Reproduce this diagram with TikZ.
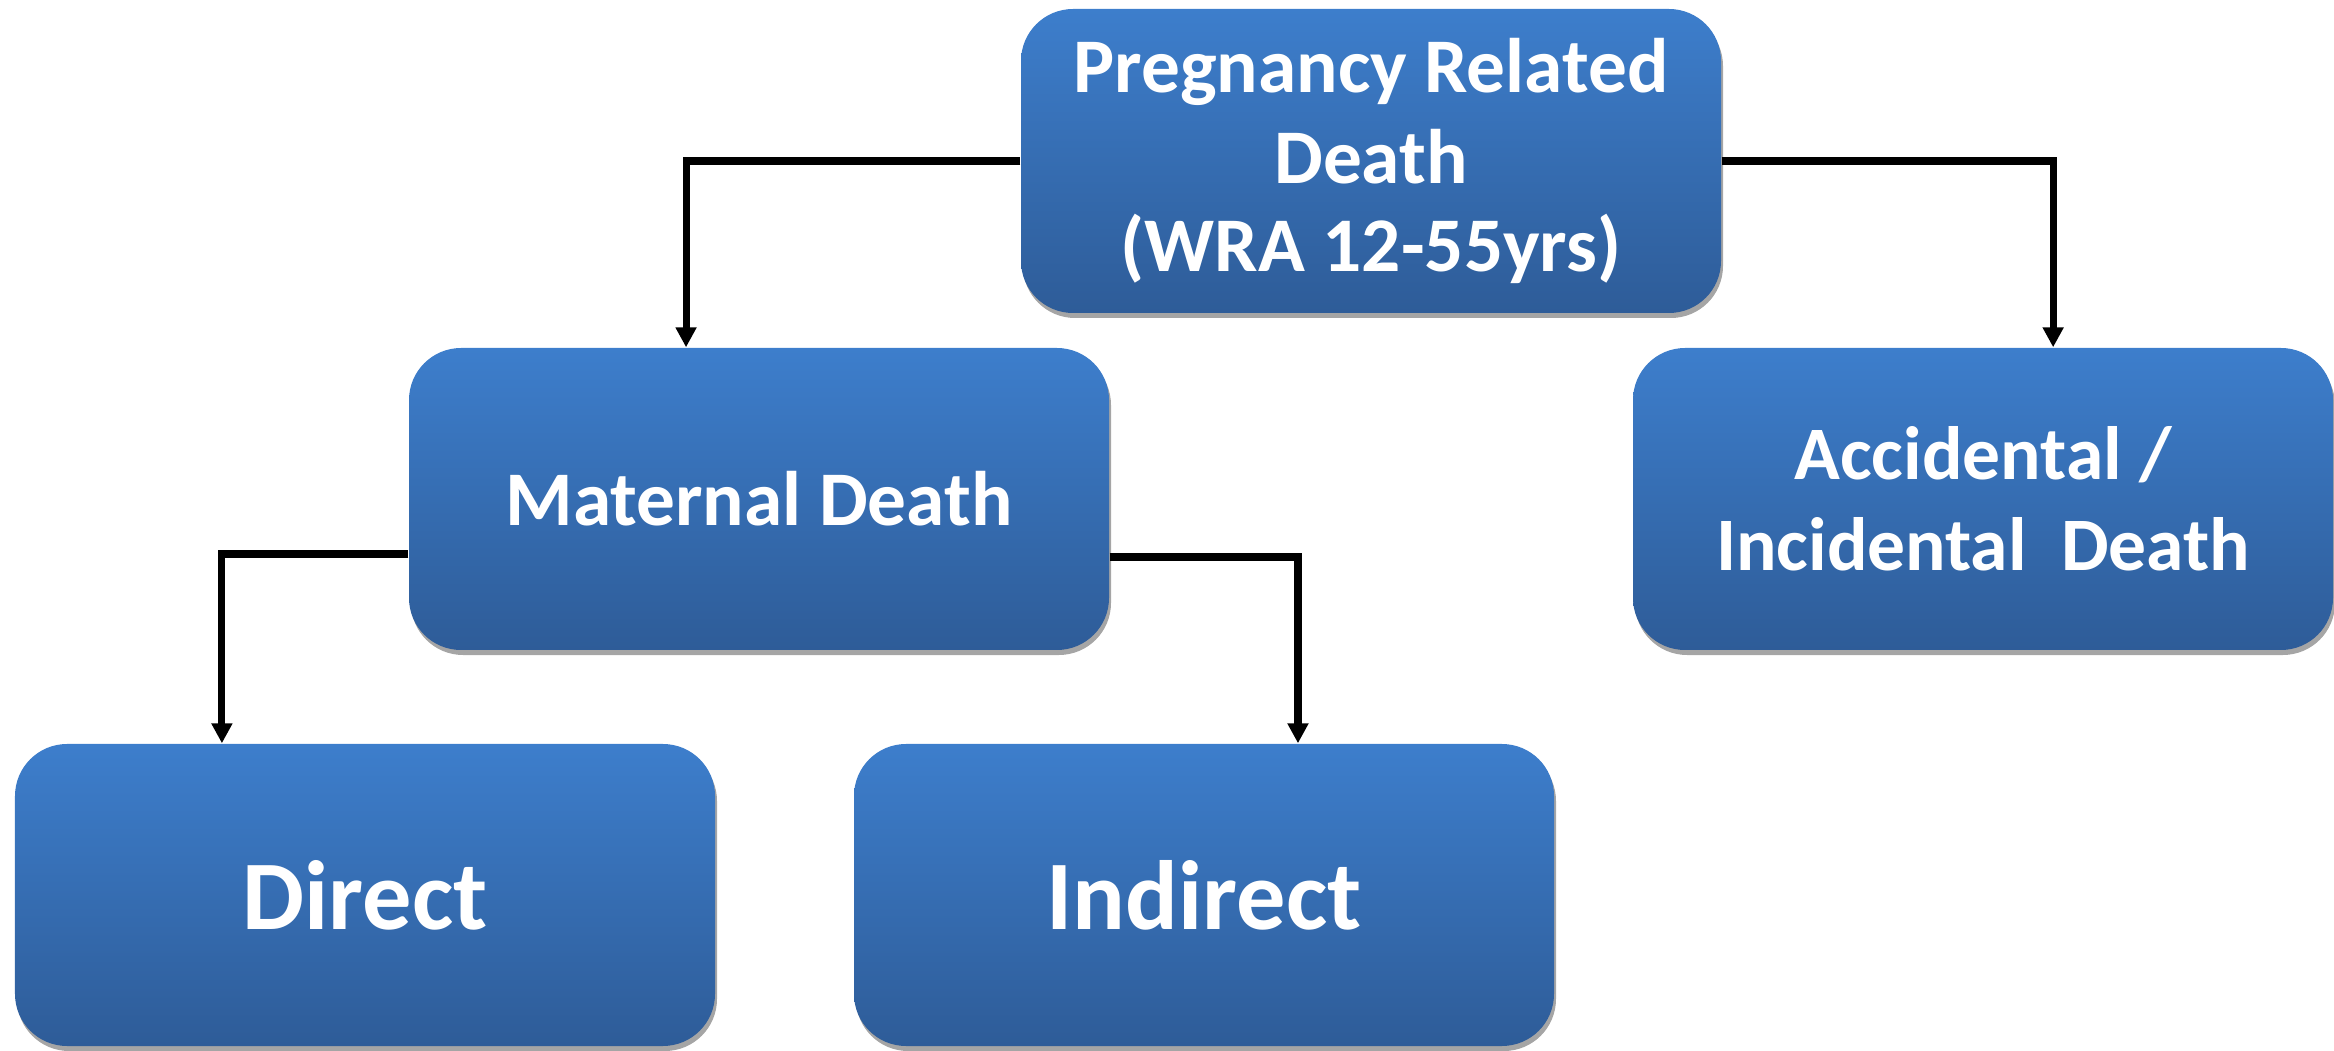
\documentclass[tikz,border=0pt]{standalone}
\usepackage{fontspec}
\setmainfont{Carlito}
\definecolor{boxtop}{RGB}{61, 126, 204}
\definecolor{boxbot}{RGB}{46, 92, 152}
\definecolor{shadowgray}{RGB}{165, 165, 165}
\usepackage{tikz}
\usetikzlibrary{arrows.meta, positioning, calc, shadows}

\tikzset{
  deathbox/.style={rounded corners=0.52cm, top color=boxtop, bottom color=boxbot,
    minimum width=7cm, minimum height=3.02cm, text=white, align=center,
    font=\bfseries, inner sep=0pt,
    drop shadow={shadow xshift=0.02cm, shadow yshift=-0.05cm, fill=shadowgray, opacity=1}},
  link/.style={line width=2pt, -{Triangle[width=0.2cm, length=0.2cm]}}
}

\begin{document}
\begin{tikzpicture}
  \useasboundingbox (0, 0) rectangle (23.34, 10.5);

  % Top level
  \node[deathbox, minimum height=3.04cm, font=\fontsize{22}{26}\selectfont\bfseries] (preg) at (13.71, 8.89)
    {Pregnancy Related\\Death\\[-1pt](WRA 12-55yrs)};

  % Second level
  \node[deathbox, font=\fontsize{22}{26}\selectfont\bfseries] (mat) at (7.59, 5.51) {Maternal Death};
  \node[deathbox, font=\fontsize{21.5}{26}\selectfont\bfseries] (acc) at (19.83, 5.51) {Accidental /\\Incidental~ Death};

  % Third level
  \node[deathbox, font=\fontsize{28}{34}\selectfont\bfseries] (dir) at (3.65, 1.55) {Direct};
  \node[deathbox, font=\fontsize{28}{34}\selectfont\bfseries] (ind) at (12.04, 1.55) {Indirect};

  % Connectors
  \draw[link] (preg.west) -| ($(mat.north west)!0.396!(mat.north east)$);
  \draw[link] (preg.east) -| ($(acc.north west)!0.60!(acc.north east)$);
  \draw[link] ([yshift=-0.55cm]mat.west) -| ($(dir.north west)!0.296!(dir.north east)$);
  \draw[link] ([yshift=-0.58cm]mat.east) -| ($(ind.north west)!0.634!(ind.north east)$);
\end{tikzpicture}
\end{document}
